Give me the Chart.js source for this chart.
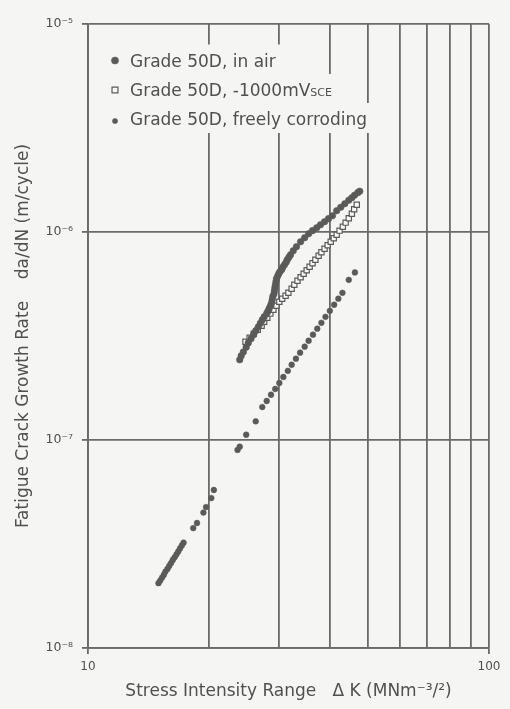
<!DOCTYPE html>
<html><head><meta charset="utf-8">
<script src="https://cdn.jsdelivr.net/npm/chart.js@4.4.1/dist/chart.umd.min.js"></script>
<style>html,body{margin:0;padding:0;background:#f5f5f3;} canvas{display:block;}</style>
</head><body>
<canvas id="c" width="510" height="709"></canvas>
<script>
// ---- data ----
const kAir = [23.9,24.1,24.4,24.8,25.1,25.5,25.9,26.2,26.6,26.9,27.2,27.5,27.9,28.1,28.3,28.5,28.7,28.8,28.9,29.1,29.17,29.25,29.34,29.43,29.51,29.7,29.9,30.1,30.4,30.6,30.9,31.2,31.4,31.7,32.0,32.5,33.1,33.9,34.7,35.5,36.3,37.2,38.0,38.9,39.8,40.7,41.7,42.7,43.7,44.7,45.5,46.2,47.1,47.6];
const rAir = [2.43e-7,2.54e-7,2.65e-7,2.79e-7,2.93e-7,3.07e-7,3.21e-7,3.35e-7,3.50e-7,3.64e-7,3.78e-7,3.91e-7,4.05e-7,4.16e-7,4.28e-7,4.42e-7,4.57e-7,4.72e-7,4.89e-7,5.05e-7,5.22e-7,5.40e-7,5.58e-7,5.77e-7,5.96e-7,6.13e-7,6.30e-7,6.44e-7,6.59e-7,6.77e-7,6.96e-7,7.16e-7,7.36e-7,7.56e-7,7.78e-7,8.13e-7,8.50e-7,8.98e-7,9.39e-7,9.81e-7,1.015e-6,1.049e-6,1.084e-6,1.121e-6,1.159e-6,1.198e-6,1.266e-6,1.316e-6,1.368e-6,1.422e-6,1.462e-6,1.503e-6,1.546e-6,1.571e-6];

const kCath = [24.7,25.3,25.9,26.5,27.1,27.5,28.0,28.5,29.0,29.5,30.0,30.5,31.1,31.6,32.2,32.7,33.3,33.9,34.5,35.1,35.7,36.3,36.9,37.6,38.2,38.9,39.6,40.3,41.0,41.7,42.4,43.2,43.9,44.7,45.5,46.1,46.8];
const rCath = [2.97e-7,3.10e-7,3.24e-7,3.39e-7,3.54e-7,3.70e-7,3.87e-7,4.05e-7,4.23e-7,4.42e-7,4.62e-7,4.78e-7,4.94e-7,5.10e-7,5.34e-7,5.58e-7,5.83e-7,6.06e-7,6.30e-7,6.55e-7,6.81e-7,7.08e-7,7.36e-7,7.69e-7,7.99e-7,8.31e-7,8.64e-7,8.98e-7,9.34e-7,9.70e-7,1.015e-6,1.06e-6,1.109e-6,1.165e-6,1.225e-6,1.287e-6,1.353e-6];

const kFree = [14.99,15.14,15.3,15.46,15.6,15.78,15.94,16.11,16.27,16.44,16.62,16.79,16.96,17.14,17.31,18.3,18.7,19.4,19.7,20.3,20.6,23.6,23.9,24.8,26.2,27.2,27.9,28.6,29.3,30.0,30.7,31.5,32.2,33.0,33.8,34.7,35.5,36.4,37.3,38.2,39.1,40.1,41.1,42.1,43.1,44.7,46.3];
const rFree = [2.05e-8,2.11e-8,2.18e-8,2.25e-8,2.33e-8,2.40e-8,2.48e-8,2.56e-8,2.65e-8,2.73e-8,2.82e-8,2.91e-8,3.01e-8,3.11e-8,3.21e-8,3.77e-8,3.99e-8,4.48e-8,4.76e-8,5.26e-8,5.75e-8,8.96e-8,9.29e-8,1.06e-7,1.23e-7,1.44e-7,1.54e-7,1.65e-7,1.76e-7,1.88e-7,2.01e-7,2.15e-7,2.30e-7,2.46e-7,2.63e-7,2.81e-7,3.00e-7,3.21e-7,3.43e-7,3.66e-7,3.91e-7,4.18e-7,4.47e-7,4.78e-7,5.10e-7,5.89e-7,6.39e-7];

const seriesLabels = ['Grade 50D, in air', 'Grade 50D, -1000mVSCE', 'Grade 50D, freely corroding'];
const xTicks = [10,20,30,40,50,60,70,80,90,100];
const xMajor = [10,100];
const xTickLabels = ['10','100'];
const yTicks = [1e-8,1e-7,1e-6,1e-5];
const yTickLabels = ['10⁻⁸','10⁻⁷','10⁻⁶','10⁻⁵'];
const xTitle = 'Stress Intensity Range   Δ K (MNm⁻³/²)';
const yTitle = 'Fatigue Crack Growth Rate    da/dN (m/cycle)';

// ---- styles ----
const BG = '#f5f5f3';
const INK = '#5a5a5a';
const TXT = '#505050';
const GRID = '#6a6a6a';
const FONT = "'DejaVu Sans', sans-serif";

const pts = (ks, rs) => ks.map((k, i) => ({x: k, y: rs[i]}));

const bgPlugin = {
  id: 'bg',
  beforeDraw(chart) {
    const c = chart.ctx;
    c.save(); c.fillStyle = BG; c.fillRect(0, 0, chart.width, chart.height); c.restore();
  }
};

const legendPlugin = {
  id: 'inLegend',
  afterDatasetsDraw(chart) {
    const c = chart.ctx;
    const rows = [60.5, 90, 119];
    const markerX = 115, textX = 130;
    c.save();
    chart.data.datasets.forEach((ds, i) => {
      const y = rows[i];
      let label = ds.label, sub = '';
      const m = label.match(/^(.*?)(SCE)$/);
      if (m) { label = m[1]; sub = m[2]; }
      c.font = '17px ' + FONT;
      const w = c.measureText(label).width;
      c.font = '11px ' + FONT;
      const ws = sub ? c.measureText(sub).width : 0;
      c.fillStyle = BG;
      c.fillRect(101, y - 16, textX - 101 + w + ws + 7, 30);
      c.fillStyle = ds.backgroundColor;
      c.strokeStyle = ds.borderColor;
      c.lineWidth = ds.borderWidth;
      Chart.helpers.drawPoint(c, {pointStyle: ds.pointStyle, radius: ds.legendRadius, borderWidth: ds.borderWidth, rotation: 0}, markerX, y + (i === 2 ? 2 : 0));
      c.fillStyle = TXT;
      c.textBaseline = 'alphabetic';
      c.textAlign = 'left';
      c.font = '17px ' + FONT;
      c.fillText(label, textX, y + 6);
      if (sub) { c.font = '11px ' + FONT; c.fillText(sub, textX + w, y + 6); }
    });
    c.restore();
  }
};

new Chart(document.getElementById('c'), {
  type: 'scatter',
  data: {
    datasets: [
      {label: seriesLabels[0], data: pts(kAir, rAir), pointStyle: 'circle', pointRadius: 3.3, legendRadius: 3.6,
       backgroundColor: INK, borderColor: INK, borderWidth: 0.5},
      {label: seriesLabels[1], data: pts(kCath, rCath), pointStyle: 'rect', pointRadius: 3.7, legendRadius: 4.2,
       backgroundColor: '#fafaf8', borderColor: INK, borderWidth: 1.2},
      {label: seriesLabels[2], data: pts(kFree, rFree), pointStyle: 'circle', pointRadius: 2.9, legendRadius: 2.6,
       backgroundColor: INK, borderColor: INK, borderWidth: 0.5}
    ]
  },
  options: {
    responsive: false,
    animation: false,
    devicePixelRatio: 1,
    layout: {padding: {left: 0, right: 21, top: 24, bottom: 0}},
    plugins: {legend: {display: false}, tooltip: {enabled: false}},
    scales: {
      x: {
        type: 'logarithmic', min: 10, max: 100, position: 'bottom',
        afterFit: s => { s.height = 61; },
        afterBuildTicks: s => { s.ticks = xTicks.map(v => ({value: v})); },
        ticks: {
          autoSkip: false, maxRotation: 0, padding: 6, color: TXT,
          font: {family: FONT, size: 12},
          callback: v => { const i = xMajor.indexOf(v); return i >= 0 ? xTickLabels[i] : ''; }
        },
        grid: {
          color: GRID, lineWidth: 1.8, tickLength: 6,
          tickColor: ctx => (ctx.tick && xMajor.includes(ctx.tick.value)) ? GRID : 'rgba(0,0,0,0)'
        },
        border: {display: true, color: GRID, width: 1.8},
        title: {display: true, text: xTitle, color: TXT, font: {family: FONT, size: 17}, padding: {top: 0, bottom: 7}}
      },
      y: {
        type: 'logarithmic', min: 1e-8, max: 1e-5, position: 'left',
        afterFit: s => { s.width = 88; },
        afterBuildTicks: s => { s.ticks = yTicks.map(v => ({value: v})); },
        ticks: {
          autoSkip: false, padding: 9, color: TXT,
          font: {family: FONT, size: 12.5},
          callback: v => { const i = yTicks.findIndex(t => Math.abs(t - v) / t < 1e-6); return i >= 0 ? yTickLabels[i] : ''; }
        },
        grid: {color: GRID, lineWidth: 1.8, tickLength: 6, tickColor: GRID},
        border: {display: true, color: GRID, width: 1.8},
        title: {display: true, text: yTitle, color: TXT, font: {family: FONT, size: 17}, padding: {top: 13, bottom: 0}}
      }
    }
  },
  plugins: [bgPlugin, legendPlugin]
});
</script>
</body></html>
